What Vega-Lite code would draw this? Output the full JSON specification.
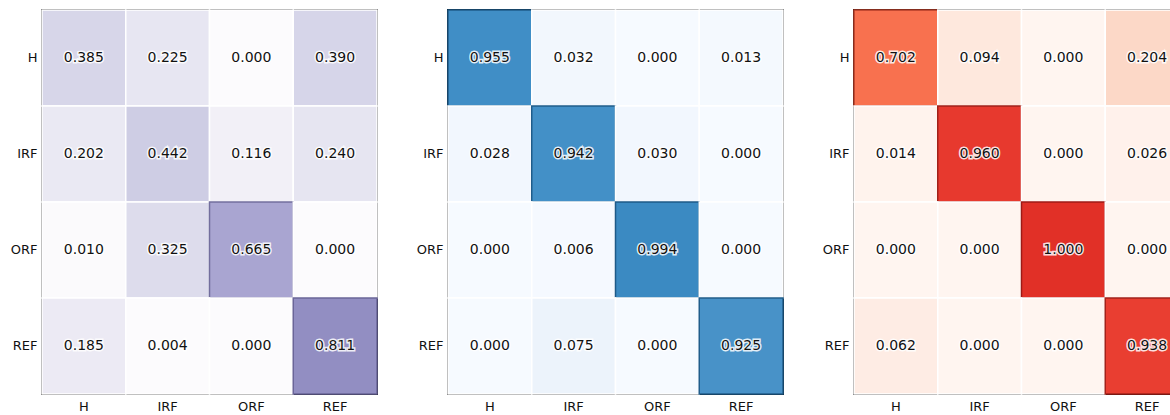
{
  "$schema": "https://vega.github.io/schema/vega-lite/v6.json",
  "padding": {"left": 9, "top": 8, "right": 0, "bottom": 0},
  "background": "white",
  "datasets": {
    "cm": [
      {"panel": "A", "actual": "H", "pred": "H", "value": 0.385},
      {"panel": "A", "actual": "H", "pred": "IRF", "value": 0.225},
      {"panel": "A", "actual": "H", "pred": "ORF", "value": 0.000},
      {"panel": "A", "actual": "H", "pred": "REF", "value": 0.390},
      {"panel": "A", "actual": "IRF", "pred": "H", "value": 0.202},
      {"panel": "A", "actual": "IRF", "pred": "IRF", "value": 0.442},
      {"panel": "A", "actual": "IRF", "pred": "ORF", "value": 0.116},
      {"panel": "A", "actual": "IRF", "pred": "REF", "value": 0.240},
      {"panel": "A", "actual": "ORF", "pred": "H", "value": 0.010},
      {"panel": "A", "actual": "ORF", "pred": "IRF", "value": 0.325},
      {"panel": "A", "actual": "ORF", "pred": "ORF", "value": 0.665},
      {"panel": "A", "actual": "ORF", "pred": "REF", "value": 0.000},
      {"panel": "A", "actual": "REF", "pred": "H", "value": 0.185},
      {"panel": "A", "actual": "REF", "pred": "IRF", "value": 0.004},
      {"panel": "A", "actual": "REF", "pred": "ORF", "value": 0.000},
      {"panel": "A", "actual": "REF", "pred": "REF", "value": 0.811},
      {"panel": "B", "actual": "H", "pred": "H", "value": 0.955},
      {"panel": "B", "actual": "H", "pred": "IRF", "value": 0.032},
      {"panel": "B", "actual": "H", "pred": "ORF", "value": 0.000},
      {"panel": "B", "actual": "H", "pred": "REF", "value": 0.013},
      {"panel": "B", "actual": "IRF", "pred": "H", "value": 0.028},
      {"panel": "B", "actual": "IRF", "pred": "IRF", "value": 0.942},
      {"panel": "B", "actual": "IRF", "pred": "ORF", "value": 0.030},
      {"panel": "B", "actual": "IRF", "pred": "REF", "value": 0.000},
      {"panel": "B", "actual": "ORF", "pred": "H", "value": 0.000},
      {"panel": "B", "actual": "ORF", "pred": "IRF", "value": 0.006},
      {"panel": "B", "actual": "ORF", "pred": "ORF", "value": 0.994},
      {"panel": "B", "actual": "ORF", "pred": "REF", "value": 0.000},
      {"panel": "B", "actual": "REF", "pred": "H", "value": 0.000},
      {"panel": "B", "actual": "REF", "pred": "IRF", "value": 0.075},
      {"panel": "B", "actual": "REF", "pred": "ORF", "value": 0.000},
      {"panel": "B", "actual": "REF", "pred": "REF", "value": 0.925},
      {"panel": "C", "actual": "H", "pred": "H", "value": 0.702},
      {"panel": "C", "actual": "H", "pred": "IRF", "value": 0.094},
      {"panel": "C", "actual": "H", "pred": "ORF", "value": 0.000},
      {"panel": "C", "actual": "H", "pred": "REF", "value": 0.204},
      {"panel": "C", "actual": "IRF", "pred": "H", "value": 0.014},
      {"panel": "C", "actual": "IRF", "pred": "IRF", "value": 0.960},
      {"panel": "C", "actual": "IRF", "pred": "ORF", "value": 0.000},
      {"panel": "C", "actual": "IRF", "pred": "REF", "value": 0.026},
      {"panel": "C", "actual": "ORF", "pred": "H", "value": 0.000},
      {"panel": "C", "actual": "ORF", "pred": "IRF", "value": 0.000},
      {"panel": "C", "actual": "ORF", "pred": "ORF", "value": 1.000},
      {"panel": "C", "actual": "ORF", "pred": "REF", "value": 0.000},
      {"panel": "C", "actual": "REF", "pred": "H", "value": 0.062},
      {"panel": "C", "actual": "REF", "pred": "IRF", "value": 0.000},
      {"panel": "C", "actual": "REF", "pred": "ORF", "value": 0.000},
      {"panel": "C", "actual": "REF", "pred": "REF", "value": 0.938}
    ]
  },
  "spacing": 36,
  "resolve": {"scale": {"fill": "independent", "stroke": "independent"}},
  "hconcat": [
    {
      "width": 335, "height": 384,
      "data": {"name": "cm"},
      "transform": [{"filter": "datum.panel === 'A'"}],
      "encoding": {
        "x": {"field": "pred", "type": "nominal", "sort": ["H", "IRF", "ORF", "REF"], "title": null, "scale": {"paddingInner": 0, "paddingOuter": 0}},
        "y": {"field": "actual", "type": "nominal", "sort": ["H", "IRF", "ORF", "REF"], "title": null, "scale": {"paddingInner": 0, "paddingOuter": 0}}
      },
      "layer": [
        {"mark": {"type": "rect", "strokeWidth": 1.5},
         "encoding": {
           "fill": {"field": "value", "type": "quantitative", "legend": null, "scale": {"domain": [0, 0.2, 0.4, 0.65, 0.8, 1], "range": ["#fcfbfd", "#eae9f3", "#d5d4e8", "#aba8d2", "#938fc3", "#7b76b5"]}},
           "stroke": {"field": "value", "type": "quantitative", "legend": null, "scale": {"domain": [0, 0.5, 0.6, 1], "range": ["#ffffff", "#ffffff", "#76729f", "#5f5a92"]}}
         }},
        {"mark": {"type": "text", "fontSize": 14, "font": "DejaVu Sans", "stroke": "white", "strokeWidth": 3, "strokeOpacity": 0.85, "fill": "white"},
         "encoding": {"text": {"field": "value", "type": "quantitative", "format": ".3f"}}},
        {"mark": {"type": "text", "fontSize": 14, "font": "DejaVu Sans", "fill": "#111111"},
         "encoding": {"text": {"field": "value", "type": "quantitative", "format": ".3f"}}}
      ]
    },
    {
      "width": 335, "height": 384,
      "data": {"name": "cm"},
      "transform": [{"filter": "datum.panel === 'B'"}],
      "encoding": {
        "x": {"field": "pred", "type": "nominal", "sort": ["H", "IRF", "ORF", "REF"], "title": null, "scale": {"paddingInner": 0, "paddingOuter": 0}},
        "y": {"field": "actual", "type": "nominal", "sort": ["H", "IRF", "ORF", "REF"], "title": null, "scale": {"paddingInner": 0, "paddingOuter": 0}}
      },
      "layer": [
        {"mark": {"type": "rect", "strokeWidth": 1.5},
         "encoding": {
           "fill": {"field": "value", "type": "quantitative", "legend": null, "scale": {"domain": [0, 0.1, 0.5, 0.95, 1], "range": ["#f6faff", "#e8f1fa", "#a8cde4", "#418fc6", "#3a89c2"]}},
           "stroke": {"field": "value", "type": "quantitative", "legend": null, "scale": {"domain": [0, 0.5, 0.6, 1], "range": ["#ffffff", "#ffffff", "#2a6a9a", "#1d5a88"]}}
         }},
        {"mark": {"type": "text", "fontSize": 14, "font": "DejaVu Sans", "stroke": "white", "strokeWidth": 3, "strokeOpacity": 0.85, "fill": "white"},
         "encoding": {"text": {"field": "value", "type": "quantitative", "format": ".3f"}}},
        {"mark": {"type": "text", "fontSize": 14, "font": "DejaVu Sans", "fill": "#111111"},
         "encoding": {"text": {"field": "value", "type": "quantitative", "format": ".3f"}}}
      ]
    },
    {
      "width": 335, "height": 384,
      "data": {"name": "cm"},
      "transform": [{"filter": "datum.panel === 'C'"}],
      "encoding": {
        "x": {"field": "pred", "type": "nominal", "sort": ["H", "IRF", "ORF", "REF"], "title": null, "scale": {"paddingInner": 0, "paddingOuter": 0}},
        "y": {"field": "actual", "type": "nominal", "sort": ["H", "IRF", "ORF", "REF"], "title": null, "scale": {"paddingInner": 0, "paddingOuter": 0}}
      },
      "layer": [
        {"mark": {"type": "rect", "strokeWidth": 1.5},
         "encoding": {
           "fill": {"field": "value", "type": "quantitative", "legend": null, "scale": {"domain": [0, 0.1, 0.2, 0.7, 0.95, 1], "range": ["#fff5f0", "#fee7dc", "#fcd9c8", "#f8714f", "#e83b30", "#e13027"]}},
           "stroke": {"field": "value", "type": "quantitative", "legend": null, "scale": {"domain": [0, 0.5, 0.6, 1], "range": ["#ffffff", "#ffffff", "#b8462e", "#9e1a16"]}}
         }},
        {"mark": {"type": "text", "fontSize": 14, "font": "DejaVu Sans", "stroke": "white", "strokeWidth": 3, "strokeOpacity": 0.85, "fill": "white"},
         "encoding": {"text": {"field": "value", "type": "quantitative", "format": ".3f"}}},
        {"mark": {"type": "text", "fontSize": 14, "font": "DejaVu Sans", "fill": "#111111"},
         "encoding": {"text": {"field": "value", "type": "quantitative", "format": ".3f"}}}
      ]
    }
  ],
  "config": {
    "view": {"stroke": "black", "strokeWidth": 2},
    "axis": {
      "domain": false, "ticks": false, "grid": false,
      "labelFont": "DejaVu Sans", "labelFontSize": 13, "labelColor": "#111111"
    },
    "axisX": {"labelAngle": 0, "labelPadding": 6},
    "axisY": {"labelPadding": 5, "minExtent": 30, "maxExtent": 30}
  }
}
